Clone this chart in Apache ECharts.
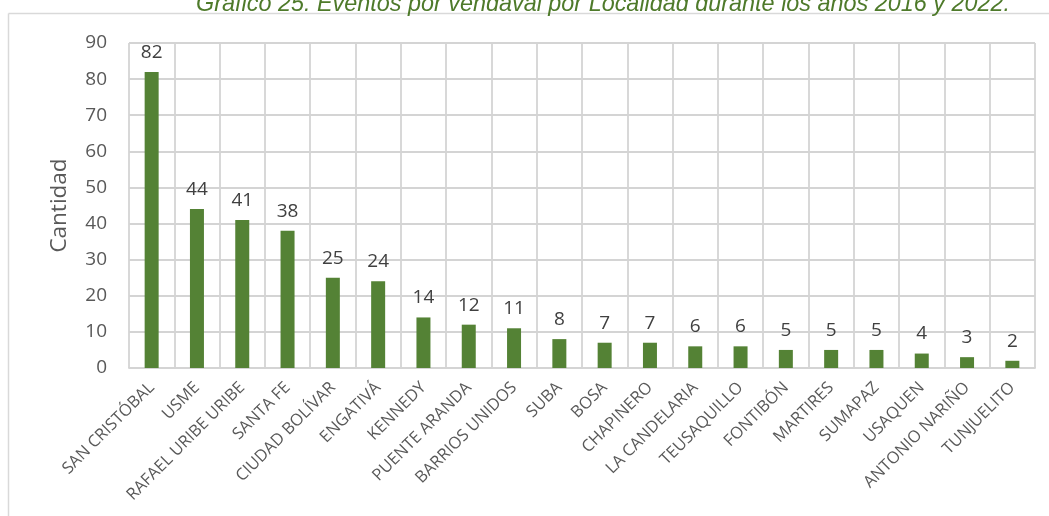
<!DOCTYPE html>
<html>
<head>
<meta charset="utf-8">
<style>html,body{margin:0;padding:0;background:#fff}#c{width:1049px;height:516px}</style>
<script src="https://cdn.jsdelivr.net/npm/echarts@6/dist/echarts.min.js"></script>
</head>
<body>
<div id="c"></div>
<script>
const titleText = "Gráfico 25. Eventos por vendaval por Localidad durante los años 2016 y 2022.";
const categories = ["SAN CRISTÓBAL","USME","RAFAEL URIBE URIBE","SANTA FE","CIUDAD BOLÍVAR","ENGATIVÁ","KENNEDY","PUENTE ARANDA","BARRIOS UNIDOS","SUBA","BOSA","CHAPINERO","LA CANDELARIA","TEUSAQUILLO","FONTIBÓN","MARTIRES","SUMAPAZ","USAQUEN","ANTONIO NARIÑO","TUNJUELITO"];
const values = [82,44,41,38,25,24,14,12,11,8,7,7,6,6,5,5,5,4,3,2];
const yName = "Cantidad";

const chart = echarts.init(document.getElementById('c'), null, {renderer:'canvas'});
const font = "'Open Sans', 'Noto Sans', sans-serif";
chart.setOption({
  animation:false,
  title:{text:titleText, left:598, textAlign:'center', top:-12,
    textStyle:{fontFamily:"'Liberation Sans', Arial, sans-serif", fontStyle:'italic', fontWeight:'normal', fontSize:23.4, color:'#4e7a2a'}},
  graphic:[
    {type:'line', shape:{x1:8.5,y1:13.5,x2:1049,y2:13.5}, style:{stroke:'#d9d9d9', lineWidth:1.5}, silent:true},
    {type:'line', shape:{x1:8.5,y1:13.5,x2:8.5,y2:516}, style:{stroke:'#d9d9d9', lineWidth:1.5}, silent:true}
  ],
  grid:{left:129, right:14, top:43, bottom:148},
  xAxis:{type:'category', data:categories,
    axisLine:{show:true, lineStyle:{color:'#d4d4d4', width:1.8}},
    axisTick:{show:false},
    splitLine:{show:true, lineStyle:{color:'#d4d4d4', width:1.8}},
    axisLabel:{rotate:45, interval:0, margin:17, fontFamily:font, fontSize:16.5, color:'#595959'}},
  yAxis:{type:'value', min:0, max:90, interval:10,
    name:yName, nameLocation:'middle', nameGap:58,
    nameTextStyle:{fontFamily:font, fontSize:22.5, color:'#595959'},
    axisLine:{show:false}, axisTick:{show:false},
    splitLine:{lineStyle:{color:'#d4d4d4', width:1.8}},
    axisLabel:{margin:22, fontFamily:font, fontSize:19, color:'#595959'}},
  series:[{type:'bar', data:values, barWidth:14,
    itemStyle:{color:'#548235'},
    label:{show:true, position:'top', distance:10, fontFamily:font, fontSize:19, color:'#404040'}}]
});
</script>
</body>
</html>
